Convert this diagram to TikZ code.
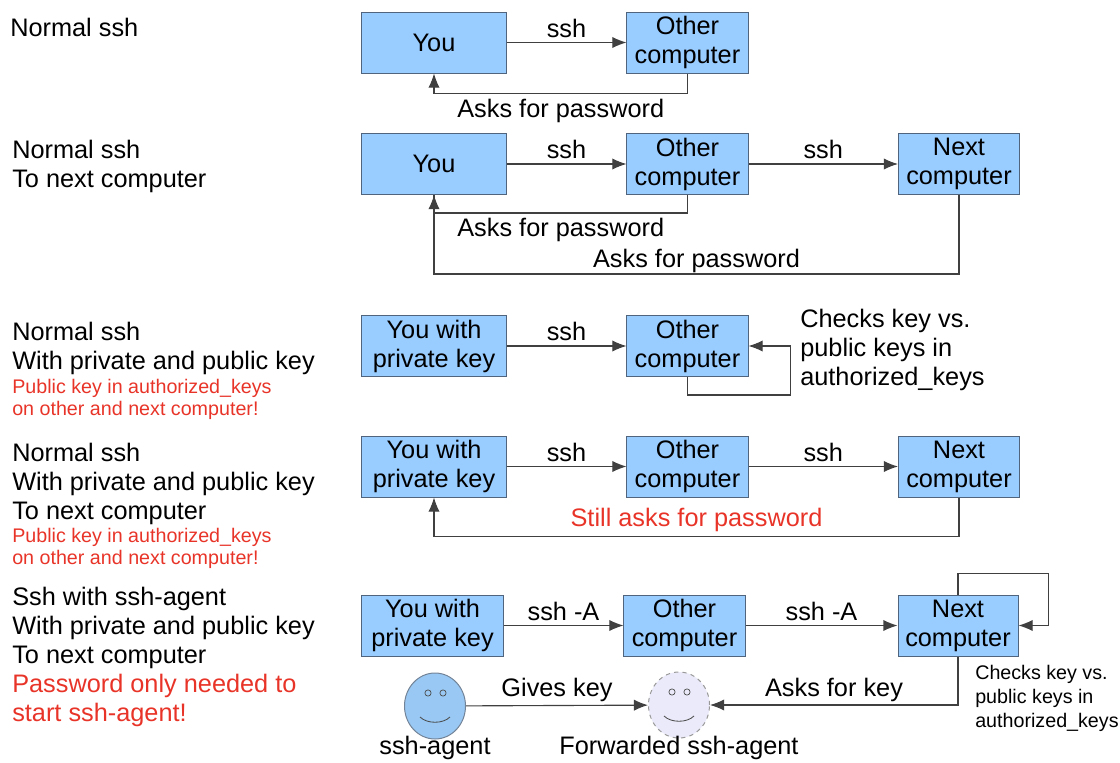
\documentclass[tikz,border=0pt]{standalone}
\usepackage{fontspec}
\setmainfont{Liberation Sans}
\usetikzlibrary{arrows.meta,shapes.geometric}
\definecolor{boxblue}{RGB}{153,204,255}
\definecolor{boxedge}{RGB}{80,100,125}
\definecolor{warnred}{RGB}{232,52,40}
\definecolor{agentblue}{RGB}{152,200,243}
\definecolor{agentlav}{RGB}{234,234,250}
\newcommand{\txtbig}{\fontsize{18}{20.6}\selectfont}
\newcommand{\txtred}{\fontsize{14}{15.6}\selectfont}
\newcommand{\txtsmall}{\fontsize{14}{17}\selectfont}

\begin{document}
\begin{tikzpicture}[x=0.025cm,y=-0.025cm,font=\txtbig,
    >={Latex[length=10pt,width=8pt]},
    box/.style={draw=boxedge,fill=boxblue,line width=0.7pt,minimum width=3.025cm,
        minimum height=1.525cm,align=center,inner sep=0pt},
    lbl/.style={anchor=base west,align=left,inner sep=0pt},
    note/.style={anchor=base west,align=left,inner sep=0pt,font=\txtred,text=warnred},
    conn/.style={draw=black!75,line width=0.8pt},
    face/.style={ellipse,line width=0.7pt,minimum width=1.525cm,minimum height=1.65cm}]
    \useasboundingbox (0,0) rectangle (1120,763);
    % normal ssh
    \node[lbl] (lbl1) at (10,36) {Normal ssh};
    \node[box,minimum width=3.6cm] (you1) at (434,42.5) {You};
    \node[box] (oth1) at (687.5,42.5) {Other\\computer};
    \draw[conn,->] (you1) -- node[above]{ssh} (oth1);
    \draw[conn,->] (oth1.south) -- ++(0,20) -| node[pos=0.25,below]{Asks for password} (you1.south);
    % to next computer
    \node[lbl] (lbl2) at (12,187) {Normal ssh\\To next computer};
    \node[box,minimum width=3.6cm] (you2) at (434,164) {You};
    \node[box] (oth2) at (687.5,164) {Other\\computer};
    \node[box] (nxt2) at (959,164) {Next\\computer};
    \draw[conn,->] (you2) -- node[above]{ssh} (oth2);
    \draw[conn,->] (oth2) -- node[above]{ssh} (nxt2);
    \draw[conn,->] (oth2.south) -- ++(0,18) -| node[pos=0.25,below]{Asks for password} (you2.south);
    \draw[conn] (nxt2.south) -- ++(0,79) -| node[pos=0.25,above,inner sep=0.5pt]{Asks for password} (you2.south);
    % private and public key
    \node[lbl] (lbl3) at (12,369) {Normal ssh\\With private and public key};
    \node[note] (note3) at (12,415) {Public key in authorized\_keys\\on other and next computer!};
    \node[box,minimum width=3.6cm] (you3) at (434,346) {You with\\private key};
    \node[box] (oth3) at (687.5,346) {Other\\computer};
    \draw[conn,->] (you3) -- node[above]{ssh} (oth3);
    \draw[conn,->] (oth3.south) -- ++(0,18) -| ([xshift=1.05cm]oth3.east) -- (oth3.east);
    \node[lbl] (chk3) at (800,385) {Checks key vs.\\public keys in\\authorized\_keys};
    % key, to next computer
    \node[lbl] (lbl4) at (12,519) {Normal ssh\\With private and public key\\To next computer};
    \node[note] (note4) at (12,564) {Public key in authorized\_keys\\on other and next computer!};
    \node[box,minimum width=3.6cm] (you4) at (434,466.5) {You with\\private key};
    \node[box] (oth4) at (687.5,466.5) {Other\\computer};
    \node[box] (nxt4) at (959,466.5) {Next\\computer};
    \draw[conn,->] (you4) -- node[above]{ssh} (oth4);
    \draw[conn,->] (oth4) -- node[above]{ssh} (nxt4);
    \draw[conn,->] (nxt4.south) -- ++(0,39) -| node[pos=0.25,above,text=warnred]{Still asks for password} (you4.south);
    % ssh-agent
    \node[lbl] (lbl5) at (12,721) {Ssh with ssh-agent\\With private and public key\\To next computer\\
        \textcolor{warnred}{Password only needed to}\\\textcolor{warnred}{start ssh-agent!}};
    \node[box,minimum width=3.525cm] (you5) at (432.5,625.5) {You with\\private key};
    \node[box] (oth5) at (684.5,625.5) {Other\\computer};
    \node[box,minimum width=3cm] (nxt5) at (958,625.5) {Next\\computer};
    \draw[conn,->] (you5) -- node[above]{ssh -A} (oth5);
    \draw[conn,->] (oth5) -- node[above]{ssh -A} (nxt5);
    \draw[conn,->] (nxt5.north) -- ++(0,-21) -| ([xshift=0.75cm]nxt5.east) -- (nxt5.east);
    \node[face,draw=boxedge!80,fill=agentblue] (agt) at (435,706) {};
    \node[face,draw=black!40,dashed,fill=agentlav] (fwd) at (679,705) {};
    \foreach \f in {agt,fwd}{
        \draw[black!70,line width=0.5pt] ([shift={(-7,-13)}]\f.center) circle (2.2pt);
        \draw[black!70,line width=0.5pt] ([shift={(8,-13)}]\f.center) circle (2.2pt);
        \draw[black!70,line width=0.6pt] ([shift={(-15,11)}]\f.center) .. controls ([shift={(-8,18)}]\f.center) and ([shift={(8,18)}]\f.center) .. ([shift={(15,11)}]\f.center);
    }
    \draw[conn,->] (agt) -- node[above,inner sep=2pt]{Gives key} (fwd);
    \draw[conn,->] (nxt5.south) |- node[pos=0.75,above,inner sep=2pt]{Asks for key} (fwd.east);
    \node[lbl,font=\txtsmall] (chk5) at (975,727) {Checks key vs.\\public keys in\\authorized\_keys};
    \node (agtl) at (435,748) {ssh-agent};
    \node (fwdl) at (679,748) {Forwarded ssh-agent};
\end{tikzpicture}
\end{document}
